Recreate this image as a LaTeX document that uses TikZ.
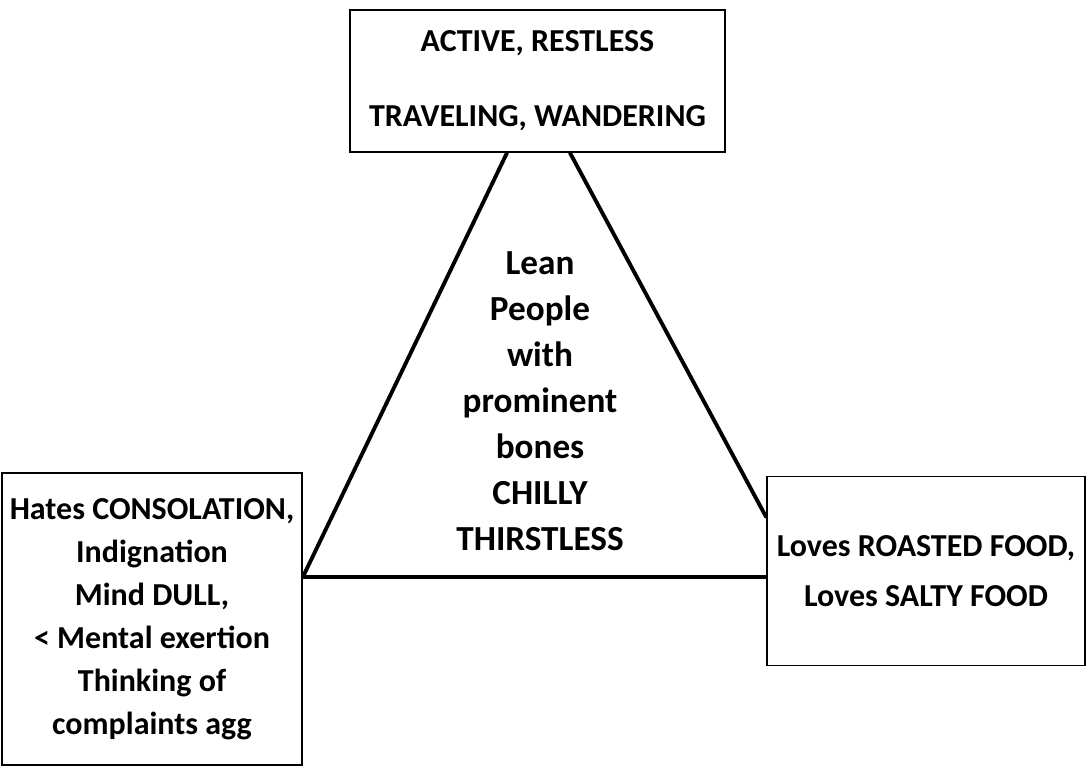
\documentclass[tikz,border=0pt]{standalone}
\usepackage{fontspec}
\setmainfont{Carlito}
\usetikzlibrary{calc}
\tikzset{
  framebox/.style={draw, line width=1.3pt, align=center, inner sep=0pt},
  side/.style={line width=2.9pt, line cap=round},
}
\begin{document}
\begin{tikzpicture}[x=0.75pt,y=-0.75pt]
  \useasboundingbox (0,0) rectangle (1089,767);

  % the three boxes
  \node[framebox, minimum width=281.25pt, minimum height=106.5pt,
        font={\fontsize{24}{56}\selectfont\bfseries}] (top) at (537.5,81)
        {ACTIVE, RESTLESS\\TRAVELING, WANDERING};
  \node[framebox, minimum width=225pt, minimum height=219pt,
        font={\fontsize{24}{32.3}\selectfont\bfseries}] (left) at (152,619)
        {Hates CONSOLATION,\\Indignation\\Mind DULL,\\< Mental exertion\\Thinking of\\complaints agg};
  \node[framebox, minimum width=238.5pt, minimum height=141.75pt,
        font={\fontsize{24}{37.5}\selectfont\bfseries}] (right) at (926,571)
        {Loves ROASTED FOOD,\\Loves SALTY FOOD};

  % text in the middle of the triangle
  \node[align=center, font={\fontsize{26.4}{34.5}\selectfont\bfseries}] (core) at (540,401.5)
        {Lean\\People\\with\\prominent\\bones\\CHILLY\\THIRSTLESS};

  % triangle
  \draw[side] ($(top.south)+(-30.5,0)$) -- ($(left.east)+(0,-42)$);
  \draw[side] ($(top.south)+(32.5,0)$) -- ($(right.west)+(0,-54)$);
  \draw[side] ($(left.east)+(0,-42)$) -- ($(right.west)+(0,6)$);
\end{tikzpicture}
\end{document}
